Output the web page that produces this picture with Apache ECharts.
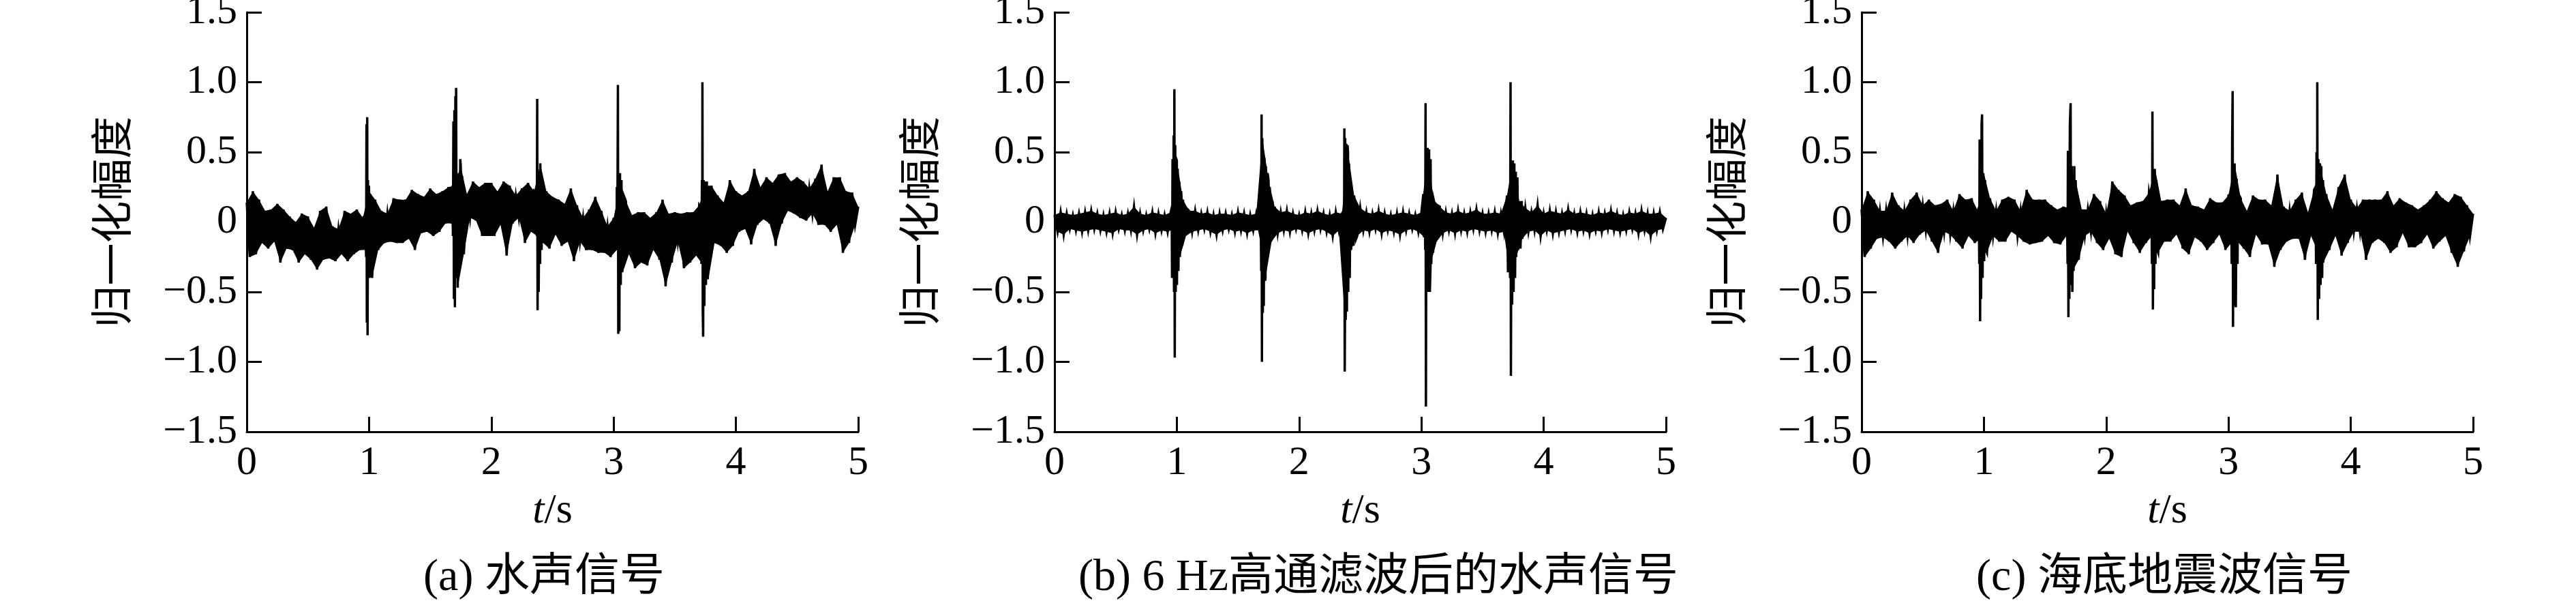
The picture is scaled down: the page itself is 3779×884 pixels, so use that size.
<!DOCTYPE html>
<html>
<head>
<meta charset="utf-8">
<script src="https://cdn.jsdelivr.net/npm/echarts@6/dist/echarts.min.js"></script>
<style>
  html, body { margin: 0; padding: 0; background: #fff; }
  #chart { width: 3779px; height: 884px; }
</style>
</head>
<body>
<div id="chart"></div>
<script>
// time axis / amplitude axis ticks
const xTicks = [0, 1, 2, 3, 4, 5];
const yTicks = [-1.5, -1.0, -0.5, 0, 0.5, 1.0, 1.5];
const panelTitles = ['(a) 水声信号', '(b) 6 Hz高通滤波后的水声信号', '(c) 海底地震波信号'];
const yName = '归一化幅度';

// noise band: upper value at t = i*step, lower value at t = i*step + step/2
const noiseStep = 0.05;

// (a) raw hydrophone signal
const aUpper = [0.14,0.22,0.16,0.08,0.09,0.13,0.09,0.04,0.00,0.06,
  0.04,-0.04,0.08,0.11,-0.03,-0.05,0.08,0.06,0.09,0.03,
  0.22,0.16,0.08,0.06,0.17,0.16,0.16,0.23,0.20,0.18,
  0.24,0.20,0.22,0.25,0.26,0.40,0.20,0.29,0.25,0.28,
  0.28,0.22,0.29,0.26,0.19,0.24,0.28,0.22,0.42,0.22,
  0.18,0.16,0.13,0.24,0.12,0.03,0.09,0.18,0.08,-0.03,
  0.03,0.25,0.15,0.05,0.07,0.07,0.03,0.07,0.16,0.06,
  0.07,0.06,0.07,0.07,0.12,0.26,0.26,0.19,0.14,0.30,
  0.22,0.19,0.22,0.38,0.25,0.32,0.28,0.34,0.35,0.29,
  0.32,0.29,0.24,0.31,0.41,0.22,0.32,0.32,0.22,0.21,
  0.11];
const aLower = [-0.25,-0.23,-0.15,-0.19,-0.14,-0.29,-0.19,-0.20,-0.29,-0.23,
  -0.27,-0.34,-0.27,-0.26,-0.28,-0.23,-0.28,-0.23,-0.20,-0.20,
  -0.40,-0.20,-0.15,-0.14,-0.15,-0.15,-0.12,-0.20,-0.08,-0.07,
  -0.10,-0.07,-0.01,-0.01,-0.47,-0.23,0.03,0.01,-0.10,-0.10,
  -0.10,-0.02,-0.24,-0.01,0.03,-0.15,-0.07,-0.10,-0.15,-0.19,
  -0.09,-0.17,-0.14,-0.28,-0.14,-0.20,-0.20,-0.22,-0.22,-0.25,
  -0.20,-0.36,-0.23,-0.33,-0.29,-0.31,-0.20,-0.27,-0.46,-0.29,
  -0.14,-0.33,-0.29,-0.24,-0.30,-0.41,-0.15,-0.17,-0.22,-0.17,
  -0.07,-0.05,-0.16,-0.02,0.02,-0.01,-0.17,-0.01,0.08,0.06,
  0.03,0.01,0.06,-0.02,-0.02,-0.07,-0.02,-0.22,-0.15,-0.02];
const aSpikes = [
  [0.972,0.05],[0.976,-0.25],[0.979,0.70],[0.982,-0.72],[0.985,0.75],[0.988,-0.81],[0.991,0.30],[0.995,-0.40],[0.999,0.26],[1.004,-0.40],[1.010,0.20],[1.016,-0.25],
  [1.682,0.26],[1.686,-0.10],[1.690,0.72],[1.694,-0.55],[1.698,0.80],[1.702,-0.61],[1.706,0.90],[1.709,-0.30],[1.712,0.96],[1.716,-0.40],[1.721,0.30],[1.727,-0.47],[1.734,0.35],[1.740,-0.30],[1.746,0.45],[1.752,-0.23],[1.760,0.33],[1.768,-0.15],
  [2.368,0.20],[2.372,-0.10],[2.375,0.88],[2.378,-0.63],[2.382,0.30],[2.387,-0.50],[2.393,0.25],[2.399,-0.30],[2.405,0.42],[2.411,-0.20],[2.418,0.30],
  [3.026,0.25],[3.030,-0.20],[3.035,0.98],[3.038,-0.80],[3.042,0.30],[3.047,-0.78],[3.052,0.35],[3.058,-0.45],[3.064,0.30],[3.070,-0.36],[3.078,0.20],
  [3.714,0.10],[3.718,-0.30],[3.722,0.30],[3.726,1.00],[3.729,-0.64],[3.732,-0.82],[3.736,0.30],[3.742,-0.60],[3.748,0.29],[3.755,-0.45],[3.762,0.29],[3.770,-0.41],[3.778,0.20],[3.786,-0.30]
];

// (b) after 6 Hz high-pass
const bUpper = [0.05,0.07,0.06,0.05,0.06,0.07,0.08,0.06,0.05,0.06,0.07,0.05,0.06,0.11,0.06,0.05,0.07,0.06,0.05,0.07,
  0.44,0.16,0.08,
  0.08,0.06,0.07,0.05,0.06,0.06,0.05,0.07,0.06,0.05,0.06,
  0.60,0.30,0.11,0.07,
  0.08,0.06,0.05,0.07,0.06,0.08,0.06,0.05,0.07,0.06,
  0.50,0.19,0.10,
  0.07,0.06,0.08,0.06,0.05,0.06,0.07,0.06,0.05,
  0.07,0.50,0.16,0.11,
  0.07,0.06,0.08,0.06,0.07,0.09,0.06,0.06,0.07,0.06,
  0.19,0.44,0.15,0.10,
  0.07,0.12,0.06,0.08,0.07,0.06,0.09,0.06,0.07,0.06,0.05,0.07,0.06,0.08,0.06,0.05,0.07,0.06,0.08,0.06,0.06,0.07,0.03];
const bLower = [-0.07,-0.09,-0.05,-0.06,-0.07,-0.06,-0.05,-0.06,-0.07,-0.08,-0.05,-0.06,-0.06,-0.09,-0.06,-0.05,-0.08,-0.06,-0.07,-0.05,
  -0.25,-0.10,-0.07,
  -0.06,-0.05,-0.07,-0.09,-0.06,-0.05,-0.07,-0.06,-0.08,-0.06,-0.06,
  -0.40,-0.14,-0.08,
  -0.06,-0.07,-0.05,-0.06,-0.08,-0.06,-0.05,-0.07,-0.10,-0.06,
  -0.70,-0.20,-0.10,
  -0.06,-0.07,-0.05,-0.08,-0.06,-0.07,-0.09,-0.06,-0.05,-0.07,
  -0.11,-0.30,-0.14,-0.08,
  -0.06,-0.08,-0.06,-0.07,-0.05,-0.06,-0.07,-0.06,-0.08,-0.07,
  -0.40,-0.25,-0.12,-0.07,
  -0.06,-0.10,-0.06,-0.08,-0.07,-0.06,-0.05,-0.07,-0.06,-0.08,-0.06,-0.07,-0.05,-0.06,-0.07,-0.06,-0.05,-0.08,-0.06,-0.10,-0.06,-0.05];
const bSpikes = [
  [0.958,0.10],[0.961,-0.40],[0.965,0.45],[0.969,-0.40],[0.974,0.62],[0.977,-0.50],[0.980,0.95],[0.983,-0.97],[0.987,0.55],[0.991,-0.50],[0.996,0.45],[1.001,-0.45],[1.007,0.38],[1.013,-0.35],[1.020,0.29],[1.028,-0.25],[1.036,0.22],[1.045,-0.17],[1.055,0.16],[1.066,-0.10],[1.078,0.10],
  [1.686,0.10],[1.690,-0.35],[1.693,0.77],[1.696,-1.00],[1.699,0.60],[1.703,-0.65],[1.707,0.50],[1.711,-0.60],[1.716,0.46],[1.722,-0.42],[1.728,0.40],[1.735,-0.30],[1.742,0.35],[1.750,-0.20],[1.760,0.25],[1.770,-0.14],[1.782,0.15],[1.795,-0.10],
  [2.364,0.08],[2.367,-0.30],[2.370,0.67],[2.373,-1.07],[2.377,0.60],[2.381,-0.70],[2.386,0.56],[2.391,-0.64],[2.396,0.55],[2.402,-0.50],[2.408,0.42],[2.414,-0.40],[2.421,0.30],[2.428,-0.20],[2.436,0.18],[2.445,-0.17],[2.455,0.19],[2.466,-0.12],
  [3.016,0.20],[3.022,-0.11],[3.028,0.22],[3.031,-0.20],[3.034,0.85],[3.037,-1.32],[3.041,0.50],[3.046,-0.50],[3.051,0.53],[3.057,-0.50],[3.063,0.52],[3.069,-0.50],[3.075,0.45],[3.081,-0.30],[3.088,0.16],[3.096,-0.22],[3.105,0.14],[3.116,-0.14],[3.130,0.12],
  [3.704,0.19],[3.708,-0.36],[3.713,0.20],[3.718,-0.36],[3.723,0.25],[3.726,-0.40],[3.729,1.00],[3.732,-1.10],[3.737,0.44],[3.742,-0.59],[3.748,0.44],[3.754,-0.50],[3.760,0.42],[3.766,-0.40],[3.772,0.36],[3.778,-0.25],[3.785,0.32],[3.792,-0.20],[3.800,0.15],[3.810,-0.19],[3.820,0.15]
];

// (c) seafloor seismic signal
const cUpper = [0.09,0.22,0.16,0.08,0.08,0.21,0.12,0.08,0.16,0.21,
  0.12,0.16,0.12,0.13,0.16,0.08,0.20,0.16,0.17,0.08,
  0.35,0.17,0.08,0.16,0.18,0.16,0.08,0.23,0.16,0.16,
  0.16,0.12,0.09,0.11,0.10,0.30,0.09,0.09,0.20,0.15,
  0.06,0.29,0.23,0.19,0.12,0.14,0.15,0.21,0.38,0.15,
  0.16,0.16,0.12,0.24,0.12,0.11,0.09,0.17,0.14,0.14,
  0.19,0.42,0.17,0.08,0.19,0.16,0.16,0.12,0.34,0.11,
  0.08,0.16,0.21,0.07,0.23,0.40,0.20,0.09,0.25,0.34,
  0.16,0.10,0.16,0.16,0.16,0.16,0.22,0.12,0.17,0.14,
  0.12,0.09,0.12,0.16,0.22,0.17,0.14,0.20,0.18,0.12,
  0.06];
const cLower = [-0.25,-0.19,-0.12,-0.11,-0.14,-0.19,-0.14,-0.10,-0.15,-0.09,
  -0.06,-0.14,-0.22,-0.07,-0.09,-0.14,-0.19,-0.10,-0.15,-0.12,
  -0.22,-0.10,-0.14,-0.14,-0.07,-0.10,-0.14,-0.16,-0.15,-0.14,
  -0.10,-0.15,-0.16,-0.10,-0.35,-0.27,-0.10,-0.07,-0.15,-0.20,
  -0.12,-0.23,-0.25,-0.07,-0.15,-0.22,-0.15,-0.10,-0.22,-0.14,
  -0.14,-0.09,-0.19,-0.23,-0.11,-0.14,-0.20,-0.15,-0.09,-0.20,
  -0.15,-0.14,-0.19,-0.25,-0.09,-0.16,-0.16,-0.32,-0.20,-0.14,
  -0.12,-0.12,-0.27,-0.10,-0.20,-0.29,-0.20,-0.10,-0.24,-0.15,
  -0.07,-0.07,-0.27,-0.15,-0.12,-0.15,-0.22,-0.18,-0.08,-0.18,
  -0.18,-0.15,-0.09,-0.19,-0.14,-0.10,-0.22,-0.32,-0.21,-0.10];
const cSpikes = [
  [0.958,0.10],[0.962,-0.30],[0.965,0.59],[0.969,-0.71],[0.973,0.50],[0.977,-0.55],[0.981,0.70],[0.985,0.77],[0.989,-0.40],[0.995,0.35],[1.002,-0.28],[1.009,0.30],[1.016,-0.20],
  [1.680,0.10],[1.684,-0.30],[1.687,0.51],[1.691,-0.68],[1.695,0.45],[1.699,-0.55],[1.703,0.70],[1.709,0.85],[1.713,-0.45],[1.718,0.40],[1.723,-0.50],[1.728,0.35],[1.733,-0.35],[1.739,0.40],[1.746,-0.27],[1.754,0.20],
  [2.370,0.10],[2.374,-0.30],[2.378,0.79],[2.382,-0.625],[2.387,0.30],[2.392,-0.48],[2.397,0.38],[2.403,-0.30],[2.410,0.30],[2.417,-0.20],
  [3.022,0.20],[3.026,-0.30],[3.030,0.60],[3.034,0.937],[3.037,-0.75],[3.042,0.40],[3.048,-0.60],[3.054,0.42],[3.060,-0.61],[3.067,0.31],[3.074,-0.30],[3.082,0.20],
  [3.712,0.25],[3.716,-0.30],[3.720,0.50],[3.726,1.00],[3.730,-0.70],[3.735,0.45],[3.741,-0.55],[3.747,0.42],[3.753,-0.45],[3.759,0.40],[3.766,-0.40],[3.773,0.30],[3.780,-0.29]
];

const serif = '"Liberation Serif", "Noto Sans CJK SC", serif';
const gridLefts = [362, 1547, 2731];
const titleCenters = [798, 2022, 3175];

function buildSeries(upper, lower, spikes) {
  const pts = [];
  upper.forEach((v, i) => pts.push([+(i * noiseStep).toFixed(3), v]));
  lower.forEach((v, i) => pts.push([+(i * noiseStep + noiseStep / 2).toFixed(3), v]));
  spikes.forEach(p => pts.push(p));
  pts.sort((a, b) => a[0] - b[0]);
  return pts;
}

const envelopes = [[aUpper, aLower], [bUpper, bLower], [cUpper, cLower]];
const panels = [
  buildSeries(aUpper, aLower, aSpikes),
  buildSeries(bUpper, bLower, bSpikes),
  buildSeries(cUpper, cLower, cSpikes)
];

// the dense noise band: a polygon through the upper edge then back along the lower edge
function bandRenderer(upper, lower) {
  return function (params, api) {
    if (params.dataIndex !== 0) return;
    const pts = [];
    upper.forEach((v, i) => pts.push(api.coord([i * noiseStep, v])));
    for (let i = lower.length - 1; i >= 0; i--) {
      pts.push(api.coord([i * noiseStep + noiseStep / 2, lower[i]]));
    }
    return { type: 'polygon', shape: { points: pts }, style: { fill: '#000' } };
  };
}

function fmtY(v) {
  if (Math.abs(v) < 1e-9) return '0';
  return v.toFixed(1).replace('-', '\u2212');
}

const chart = echarts.init(document.getElementById('chart'));

const option = {
  animation: false,
  backgroundColor: '#fff',
  grid: gridLefts.map(l => ({
    left: l, top: 18, width: 897, height: 615,
    outerBoundsMode: 'none', containLabel: false
  })),
  xAxis: gridLefts.map((l, i) => ({
    gridIndex: i,
    type: 'value',
    min: xTicks[0],
    max: xTicks[xTicks.length - 1],
    interval: 1,
    name: '{it|t}/s',
    nameLocation: 'middle',
    nameGap: 86,
    nameTextStyle: {
      color: '#000', fontSize: 62, fontFamily: serif,
      rich: { it: { fontStyle: 'italic', fontSize: 62, fontFamily: serif, color: '#000' } }
    },
    axisLine: { show: true, onZero: false, lineStyle: { color: '#000', width: 3 } },
    axisTick: { show: true, inside: true, length: 22, lineStyle: { color: '#000', width: 3 } },
    axisLabel: { color: '#000', fontSize: 60, fontFamily: serif, margin: 16, showMinLabel: true, showMaxLabel: true },
    splitLine: { show: false }
  })),
  yAxis: gridLefts.map((l, i) => ({
    gridIndex: i,
    type: 'value',
    min: yTicks[0],
    max: yTicks[yTicks.length - 1],
    interval: 0.5,
    name: yName,
    nameLocation: 'middle',
    nameRotate: 90,
    nameGap: 160,
    nameTextStyle: { color: '#000', fontSize: 62, fontFamily: serif },
    axisLine: { show: true, onZero: false, lineStyle: { color: '#000', width: 3 } },
    axisTick: { show: true, inside: true, length: 22, lineStyle: { color: '#000', width: 3 } },
    axisLabel: { color: '#000', fontSize: 60, fontFamily: serif, margin: 14, formatter: fmtY, showMinLabel: true, showMaxLabel: true },
    splitLine: { show: false }
  })),
  series: envelopes.map((env, i) => ({
    type: 'custom',
    xAxisIndex: i,
    yAxisIndex: i,
    data: [[0, 0]],
    renderItem: bandRenderer(env[0], env[1]),
    silent: true,
    clip: true
  })).concat(panels.map((data, i) => ({
    type: 'line',
    xAxisIndex: i,
    yAxisIndex: i,
    data: data,
    showSymbol: false,
    symbol: 'none',
    sampling: null,
    lineStyle: { color: '#000', width: 3.5, join: 'miter' },
    silent: true
  }))),
  graphic: panelTitles.map((t, i) => ({
    type: 'text',
    x: titleCenters[i],
    y: 848,
    style: {
      text: t,
      fill: '#000',
      font: '66px ' + serif,
      textAlign: 'center',
      textVerticalAlign: 'middle'
    }
  }))
};

chart.setOption(option);
</script>
</body>
</html>
